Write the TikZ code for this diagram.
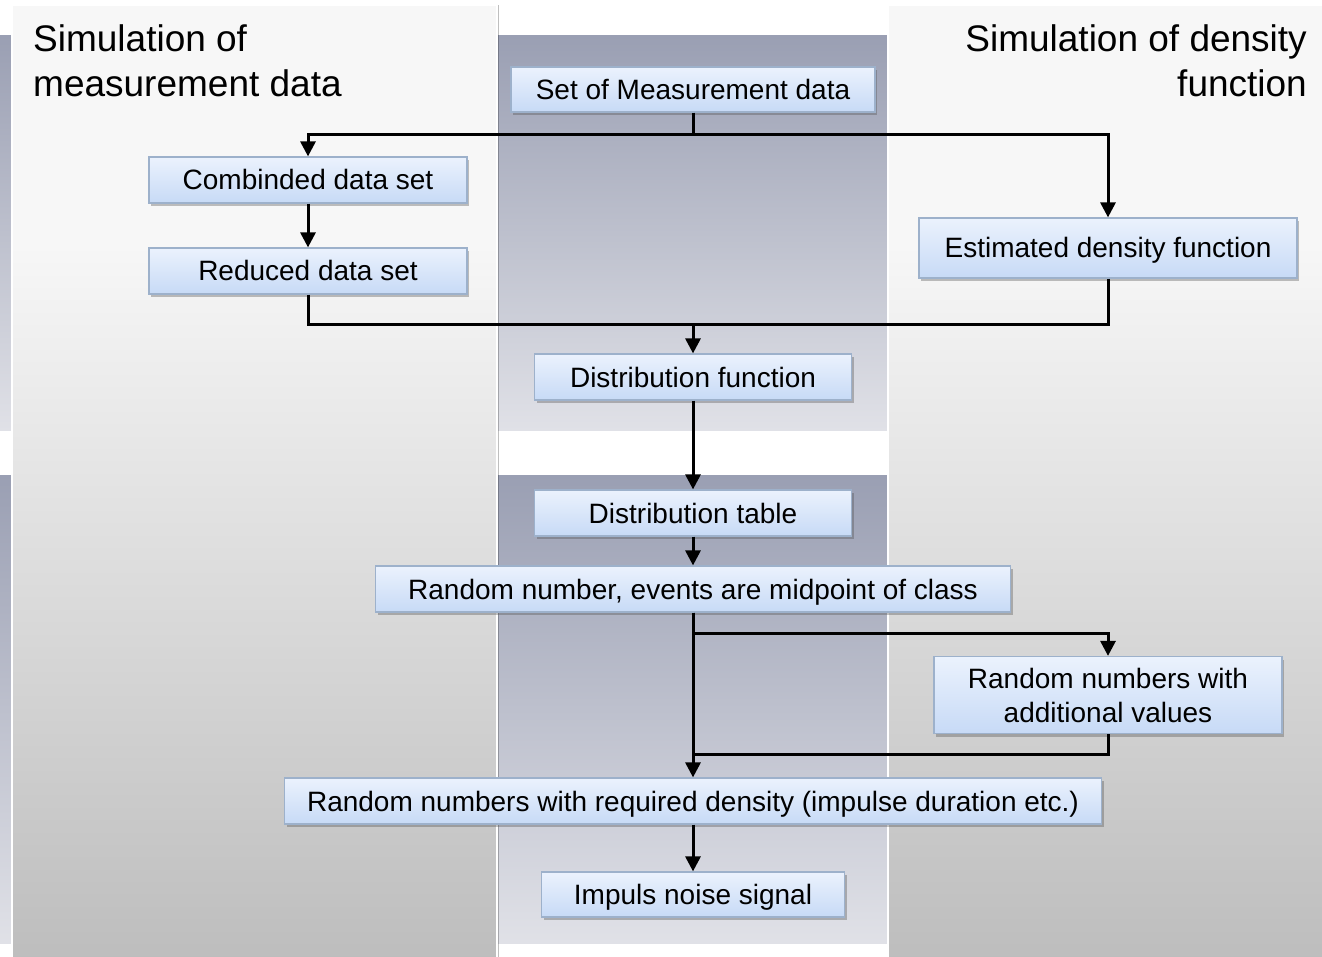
\documentclass[tikz,border=0pt]{standalone}
\usepackage{fontspec}
\setmainfont{Liberation Sans}
\usetikzlibrary{arrows.meta,shadows,calc}
\definecolor{pnltop}{HTML}{F7F7F7}
\definecolor{pnlbot}{HTML}{BDBDBD}
\definecolor{bandtop}{HTML}{9A9FB3}
\definecolor{bandbot}{HTML}{E0E1E7}
\definecolor{boxtop}{HTML}{EBF2FD}
\definecolor{boxbot}{HTML}{C7DAF6}
\definecolor{boxborder}{HTML}{9DB1CB}
\pgfdeclareverticalshading{panelshade}{100bp}{color(0bp)=(pnlbot); color(25bp)=(pnlbot); color(62.5bp)=(pnltop); color(100bp)=(pnltop)}
\tikzset{
  boxbase/.style={draw=boxborder, line width=1.2pt, top color=boxtop, bottom color=boxbot,
    font=\fontsize{28}{34}\selectfont, inner sep=0pt, align=center,
    drop shadow={shadow xshift=2pt, shadow yshift=-3pt, opacity=0.35, fill=black!70}},
  box/.style={boxbase, text height=20pt, text depth=0pt},
  title/.style={inner sep=0pt, font=\fontsize{37}{45}\selectfont},
  band/.style={top color=bandtop, bottom color=bandbot},
  panel/.style={shading=panelshade, draw=white, line width=1.5pt,
    drop shadow={shadow xshift=1.5pt, shadow yshift=0pt, opacity=0.25, fill=black}},
  conn/.style={line width=3pt, line join=miter},
  arr/.style={conn, -{Triangle[width=15pt,length=15pt]}}
}
\begin{document}
\begin{tikzpicture}[x=1pt,y=-1pt]
\useasboundingbox (0,0) rectangle (1322,957);
\fill[white] (0,0) rectangle (1322,957);
% bands
\shade[band] (0,36) rectangle (1322,430);
\shade[band] (0,475) rectangle (1322,943);
% panels
\path[panel] (12,5) rectangle (497,962);
\path[panel] (888,5) rectangle (1335,962);
% titles
\node[title, anchor=base west] (tl1) at (33,52) {Simulation of};
\node[title, anchor=base west] (tl2) at (33,97) {measurement data};
\node[title, anchor=base east] (tr1) at (1307,52) {Simulation of density};
\node[title, anchor=base east] (tr2) at (1307,97) {function};
% boxes
\node[box, minimum width=364pt, minimum height=45pt] (set) at (693,89.5) {Set of Measurement data};
\node[box, minimum width=318pt, minimum height=46pt] (comb) at (308,180) {Combinded data set};
\node[box, minimum width=318pt, minimum height=46pt] (red) at (308,271) {Reduced data set};
\node[box, minimum width=378pt, minimum height=60pt] (est) at (1108,248) {Estimated density function};
\node[box, minimum width=317pt, minimum height=46pt] (dfun) at (693,377) {Distribution function};
\node[box, minimum width=317pt, minimum height=46pt] (dtab) at (693,513) {Distribution table};
\node[box, minimum width=635pt, minimum height=46pt] (rnd) at (693,589) {Random number, events are midpoint of class};
\node[boxbase, minimum width=348pt, minimum height=77pt] (add) at (1108,695) {Random numbers with\\additional values};
\node[box, minimum width=817pt, minimum height=46pt] (req) at (693,801) {Random numbers with required density (impulse duration etc.)};
\node[box, minimum width=303pt, minimum height=45pt] (imp) at (693,894.5) {Impuls noise signal};
% connectors
\coordinate (j0) at (693,135);
\coordinate (j1) at (693,324.5);
\coordinate (j2) at (693,633);
\coordinate (j3) at (693,754);
\draw[conn] (set.south) -- (j0);
\draw[arr] (j0) -| (comb.north);
\draw[arr] (j0) -| (est.north);
\draw[arr] (comb.south) -- (red.north);
\draw[arr] (red.south) |- (j1) -- (dfun.north);
\draw[conn] (est.south) |- (j1);
\draw[arr] (dfun.south) -- (dtab.north);
\draw[arr] (dtab.south) -- (rnd.north);
\draw[arr] (rnd.south) -- (j2) -| (add.north);
\draw[arr] (rnd.south) -- (req.north);
\draw[conn] (add.south) |- (j3);
\draw[arr] (req.south) -- (imp.north);
\end{tikzpicture}
\end{document}
